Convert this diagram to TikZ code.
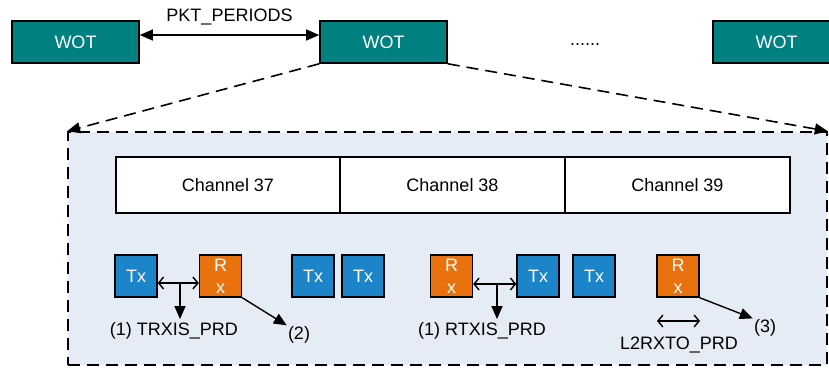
\documentclass[tikz,border=0pt]{standalone}
\usepackage{fontspec}
\setmainfont{Liberation Sans}
\usetikzlibrary{arrows.meta}
\definecolor{wotteal}{RGB}{0,128,128}
\definecolor{txblue}{RGB}{28,132,200}
\definecolor{rxorange}{RGB}{234,114,14}
\definecolor{panelbg}{RGB}{230,236,246}
\tikzset{
    wot/.style={draw, line width=1.6pt, fill=wotteal, text=white, minimum width=127pt, minimum height=42pt, inner sep=0pt},
    chan/.style={draw, line width=1.4pt, fill=white, minimum height=56pt, inner sep=0pt},
    txbox/.style={draw, line width=1.4pt, fill=txblue, text=white, minimum size=42pt, inner sep=0pt},
    rxbox/.style={txbox, fill=rxorange, align=center, font=\fontsize{18}{22}\selectfont},
    solid tip/.style={line width=1.4pt, -{Triangle[length=13pt, width=11pt]}},
    open tip/.style={line width=1.4pt, {Straight Barb[length=5pt, width=12pt]}-{Straight Barb[length=5pt, width=12pt]}},
    dash line/.style={line width=1.6pt, dash pattern=on 12pt off 7pt},
}

\begin{document}
\begin{tikzpicture}[x=1pt, y=-1pt, font=\fontsize{18}{20}\selectfont]
    \useasboundingbox (0, 0) rectangle (829, 370);

    \node (w1) [wot] at (75.5, 42) {WOT};
    \node (w2) [wot] at (383.5, 42) {WOT};
    \node (w3) [wot] at (776.5, 42) {WOT};
    \node (dots) at (585, 45) {......};

    \node (panel) [draw, dash line, fill=panelbg, minimum width=759pt, minimum height=233pt] at (447.5, 248.5) {};
    \draw[dash line, -{Triangle[length=13pt, width=11pt]}] (w2.south west) -- (panel.north west);
    \draw[dash line, -{Triangle[length=13pt, width=11pt]}] (w2.south east) -- (panel.north east);

    \draw[line width=1.4pt, {Triangle[length=13pt, width=11pt]}-{Triangle[length=13pt, width=11pt]}]
        ([yshift=7pt]w1.east) -- ([yshift=7pt]w2.west) node[midway, above=6pt] {PKT\_PERIODS};

    % channels
    \node (c37) [chan, minimum width=224pt] at (228, 185) {Channel 37};
    \node (c38) [chan, minimum width=225pt] at (452.5, 185) {Channel 38};
    \node (c39) [chan, minimum width=225pt] at (677.5, 185) {Channel 39};

    % packets
    \node (tx1) [txbox] at (136, 276) {Tx};
    \node (rx1) [rxbox] at (220.5, 276) {R\\x};
    \node (tx2) [txbox] at (313, 276) {Tx};
    \node (tx3) [txbox] at (363, 276) {Tx};
    \node (rx2) [rxbox] at (451.5, 276) {R\\x};
    \node (tx4) [txbox] at (538, 276) {Tx};
    \node (tx5) [txbox] at (594, 276) {Tx};
    \node (rx3) [rxbox] at (678, 276) {R\\x};

    \node (trxis) at (174, 331) {(1) TRXIS\_PRD};
    \node (rtxis) at (482, 331) {(1) RTXIS\_PRD};
    \node (l2rxto) at (679, 345) {L2RXTO\_PRD};
    \node (n2) [inner sep=1pt] at (299, 335) {(2)};
    \node (n3) [inner sep=1pt] at (765, 328) {(3)};

    \coordinate (m1) at (180, 283);
    \coordinate (m2) at (497, 284);
    \coordinate (to1) at (657, 321);
    \coordinate (to2) at (700, 321);

    \draw[open tip] ([yshift=-7pt]tx1.east) -- ([yshift=-7pt]rx1.west);
    \draw[solid tip] (m1) -- (m1 |- trxis.north);
    \draw[open tip] ([yshift=-8pt]rx2.east) -- ([yshift=-8pt]tx4.west);
    \draw[solid tip] (m2) -- (m2 |- rtxis.north);
    \draw[solid tip] (rx1.south east) -- (n2.north west);
    \draw[solid tip] (rx3.south east) -- (n3.north west);
    \draw[open tip] (to1) -- (to2);
\end{tikzpicture}
\end{document}
